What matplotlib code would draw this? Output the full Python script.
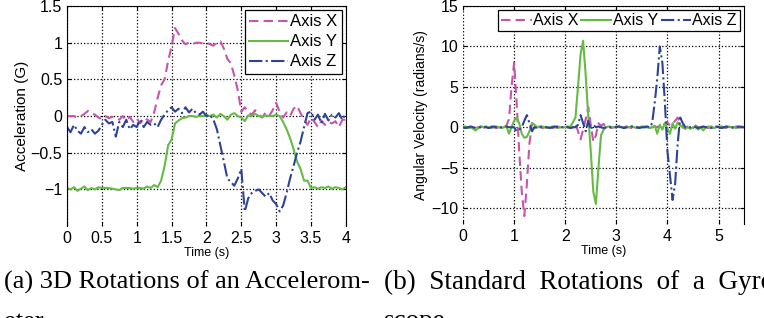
import matplotlib.pyplot as plt
import numpy as np

# Accelerometre : echantillons toutes les 0.05 s, de 0 a 4 s
t_acc = np.round(np.arange(0, 4.0001, 0.05), 2)

acc_x = [0.00, 0.00, 0.00, -0.02, 0.00, 0.03, 0.07, 0.04, 0.02, -0.02,
         -0.04, 0.00, -0.03, -0.01, -0.02, -0.05, 0.00, -0.06, -0.01, -0.08,
         -0.03, -0.10, -0.02, -0.05, -0.08, 0.05, 0.25, 0.42, 0.50, 0.75,
         0.95, 1.20, 1.12, 1.03, 0.98, 1.00, 0.98, 1.00, 1.00, 0.99,
         1.00, 0.98, 0.96, 1.00, 1.02, 0.92, 0.78, 0.72, 0.55, 0.35,
         0.06, 0.12, 0.05, 0.02, 0.08, 0.02, -0.02, 0.05, 0.00, 0.08,
         0.18, 0.06, -0.02, 0.05, 0.00, 0.10, 0.14, 0.04, -0.05, -0.12,
         -0.02, -0.08, -0.15, -0.06, -0.12, -0.08, -0.10, -0.07, -0.15, -0.05,
         -0.05]
acc_y = [-0.98, -1.00, -0.97, -1.02, -0.99, -0.96, -1.01, -0.98, -1.00, -0.97,
         -0.98, -0.98, -0.98, -0.99, -1.00, -1.01, -0.98, -0.98, -0.98, -0.99,
         -0.98, -0.98, -0.99, -0.96, -0.98, -0.94, -0.97, -0.88, -0.68, -0.40,
         -0.32, -0.10, -0.06, -0.03, -0.02, 0.00, 0.00, -0.01, 0.00, 0.00,
         0.01, 0.00, 0.02, -0.02, 0.03, 0.00, -0.05, 0.02, 0.04, 0.00,
         -0.02, -0.07, 0.01, 0.00, 0.03, 0.00, -0.01, 0.01, 0.00, 0.00,
         0.02, 0.00, -0.08, -0.18, -0.30, -0.45, -0.62, -0.72, -0.88, -0.88,
         -0.98, -0.97, -0.99, -0.97, -0.98, -0.96, -0.99, -0.97, -0.98, -1.00,
         -0.97]
acc_z = [-0.15, -0.22, -0.12, -0.20, -0.24, -0.15, -0.22, -0.18, -0.24, -0.20,
         -0.12, -0.05, -0.10, -0.08, -0.28, -0.08, -0.15, -0.05, -0.18, -0.12,
         -0.15, -0.05, -0.15, -0.08, -0.12, -0.10, -0.15, -0.05, 0.02, 0.08,
         0.12, 0.06, 0.10, 0.04, 0.12, 0.05, 0.10, 0.04, 0.02, 0.06,
         0.00, 0.02, -0.05, -0.18, -0.40, -0.62, -0.85, -0.90, -0.95, -0.85,
         -0.72, -1.30, -1.12, -1.05, -1.02, -1.00, -1.05, -1.10, -1.05, -1.15,
         -1.20, -1.30, -1.22, -1.05, -0.85, -0.68, -0.50, -0.35, -0.15, 0.04,
         0.06, -0.05, 0.02, -0.10, 0.03, -0.06, 0.02, -0.02, 0.04, -0.05,
         0.04]

# Gyroscope : echantillons toutes les 0.05 s, de 0 a 5.5 s
t_gyr = np.round(np.arange(0, 5.5001, 0.05), 2)

gyr_x = [0.1, 0.0, -0.1, 0.0, 0.1, -0.1, 0.0, 0.1, 0.0, -0.1,
         0.0, 0.1, 0.0, -0.1, 0.0, 0.1, 0.0, 0.2, 1.0, 5.0,
         8.0, 3.0, -3.0, -8.0, -11.0, -7.0, -2.0, 0.5, 0.2, 0.0,
         0.1, -0.1, 0.0, 0.1, 0.0, -0.1, 0.0, 0.1, 0.0, 0.0,
         0.0, 0.1, -0.1, 0.0, 0.5, -0.5, -1.5, -0.3, 1.0, 2.5,
         0.3, -1.8, -1.0, 0.5, 0.2, 0.4, 0.0, 0.1, -0.1, 0.0,
         0.1, 0.0, -0.1, 0.0, 0.1, 0.0, -0.1, 0.1, 0.0, 0.0,
         0.0, 0.1, 0.0, -0.1, 0.0, 0.1, 0.0, 0.2, 0.5, 0.3,
         0.6, 0.2, 0.4, 0.8, 1.2, 0.6, 0.0, -0.2, 0.1, 0.0,
         -0.1, 0.2, 0.0, -0.2, 0.1, 0.0, -0.1, 0.1, 0.0, -0.1,
         0.0, 0.1, 0.0, -0.1, 0.1, 0.0, 0.0, 0.1, 0.0, -0.1,
         0.0]
gyr_y = [0.0, 0.1, -0.1, 0.0, -0.2, -0.4, -0.1, 0.1, 0.0, 0.1,
         0.0, -0.1, 0.0, 0.1, 0.0, -0.1, 0.0, 0.1, -0.8, 0.0,
         0.8, 1.2, 0.5, -0.8, -1.3, -1.2, -0.5, 0.5, 0.3, 0.0,
         0.0, 0.1, 0.0, -0.1, 0.0, 0.1, 0.0, -0.1, 0.0, 0.0,
         0.0, 0.0, 0.1, 0.6, 1.2, 5.0, 9.0, 10.7, 6.5, 1.5,
         -3.0, -8.0, -9.5, -5.0, -1.0, -0.3, 0.0, 0.1, 0.0, 0.0,
         0.0, 0.1, 0.0, -0.1, 0.0, 0.0, 0.1, 0.0, -0.1, 0.0,
         0.1, 0.0, 0.0, -0.1, 0.0, 0.2, -0.8, 0.3, -0.3, 0.5,
         -0.2, -0.8, 0.5, -0.2, 0.6, 0.2, 0.0, -0.1, 0.0, -0.2,
         0.0, 0.1, -0.3, 0.0, -0.4, 0.0, 0.1, 0.0, -0.1, 0.0,
         0.1, 0.0, -0.1, 0.0, 0.1, 0.0, 0.0, -0.1, 0.0, 0.1,
         0.0]
gyr_z = [0.0, -0.1, 0.0, 0.1, 0.0, -0.1, 0.0, 0.0, 0.1, 0.0,
         -0.1, 0.0, 0.1, 0.0, -0.1, 0.0, 0.0, 0.1, 0.0, 0.0,
         0.0, -0.5, -0.3, 0.0, 0.8, 1.5, 0.5, -0.5, 0.0, -0.1,
         0.0, 0.1, 0.0, 0.0, -0.1, 0.0, 0.1, 0.0, 0.0, 0.0,
         0.1, 0.0, -0.1, 0.0, 0.0, 0.3, 1.5, 0.5, -0.5, 0.8,
         -0.3, 0.3, 0.0, 0.1, 0.0, -0.1, 0.0, 0.1, 0.0, 0.0,
         0.0, 0.1, 0.0, -0.1, 0.0, 0.0, 0.1, 0.0, 0.0, -0.1,
         0.0, 0.0, 0.1, 0.0, 0.5, 3.0, 6.0, 10.0, 8.0, 3.0,
         -3.0, -6.0, -9.0, -7.0, -2.0, 1.2, 0.5, 0.0, -0.1, 0.0,
         0.1, 0.0, -0.1, 0.0, 0.1, 0.0, 0.0, -0.1, 0.0, 0.1,
         0.0, -0.1, 0.0, 0.1, 0.0, 0.0, -0.1, 0.0, 0.1, 0.0,
         0.0]

labels = ['Axis X', 'Axis Y', 'Axis Z']
couleurs = ['#c656ad', '#66bb44', '#2d4496']
styles = [(0, (4.5, 2.5)), '-', '-.']

plt.rcParams['font.family'] = ['Liberation Sans', 'DejaVu Sans']

fig = plt.figure(figsize=(7.64, 3.18), dpi=100)
ax1 = fig.add_axes([0.0877, 0.289, 0.365, 0.692])
ax2 = fig.add_axes([0.606, 0.295, 0.368, 0.686])

for ax, t, series in [(ax1, t_acc, [acc_x, acc_y, acc_z]),
                      (ax2, t_gyr, [gyr_x, gyr_y, gyr_z])]:
    for s, c, ls, lab in zip(series, couleurs, styles, labels):
        ax.plot(t, s, color=c, linestyle=ls, linewidth=1.5, label=lab)
    ax.grid(True, linestyle=':', color='k', linewidth=0.9)
    ax.tick_params(direction='in', length=3, labelsize=11.5, top=True, right=True)
    ax.spines['bottom'].set_visible(False)
    ax.set_xlabel('Time (s)', fontsize=9, labelpad=1)

# Graphique (a)
ax1.set_xlim(0, 4)
ax1.set_ylim(-1.5, 1.5)
ax1.set_xticks(np.arange(0, 4.01, 0.5))
ax1.set_xticklabels(['0', '0.5', '1', '1.5', '2', '2.5', '3', '3.5', '4'])
ax1.set_yticks([-1, -0.5, 0, 0.5, 1, 1.5])
ax1.set_yticklabels(['\u22121', '\u22120.5', '0', '0.5', '1', '1.5'])
ax1.set_ylabel('Acceleration (G)', fontsize=11, labelpad=1)
leg1 = ax1.legend(loc='upper right', fontsize=12, fancybox=False, edgecolor='k',
                  framealpha=1, handlelength=2.3, handletextpad=0.15,
                  labelspacing=0.3, borderpad=0.25, borderaxespad=0.25)
leg1.get_frame().set_linewidth(0.9)

# Graphique (b)
ax2.set_xlim(0, 5.5)
ax2.set_ylim(-12, 15)
ax2.set_xticks([0, 1, 2, 3, 4, 5])
ax2.set_yticks([-10, -5, 0, 5, 10, 15])
ax2.set_yticklabels(['\u221210', '\u22125', '0', '5', '10', '15'])
ax2.spines['left'].set_visible(False)
ax2.set_ylabel('Angular Velocity (radians/s)', fontsize=10, labelpad=2)
leg2 = ax2.legend(loc='upper right', ncol=3, fontsize=11.5, fancybox=False,
                  edgecolor='k', framealpha=1, handlelength=1.9,
                  handletextpad=0.1, columnspacing=0.15, borderpad=0.2,
                  borderaxespad=0.25)
leg2.get_frame().set_linewidth(0.9)

# Legendes des sous-figures (texte justifie, coupe au bord comme l'original)
serif = ['Liberation Serif', 'DejaVu Serif']
fig.text(0.005, 0.092, '(a) 3D Rotations of an Accelerom-', family=serif, fontsize=19)
fig.text(0.005, -0.03, 'eter', family=serif, fontsize=19)
fig.text(0.502, 0.092, '(b)  Standard  Rotations  of  a  Gyro-', family=serif, fontsize=19.5)
fig.text(0.502, -0.03, 'scope', family=serif, fontsize=19.5)

fig.savefig('out.png', dpi=100)
